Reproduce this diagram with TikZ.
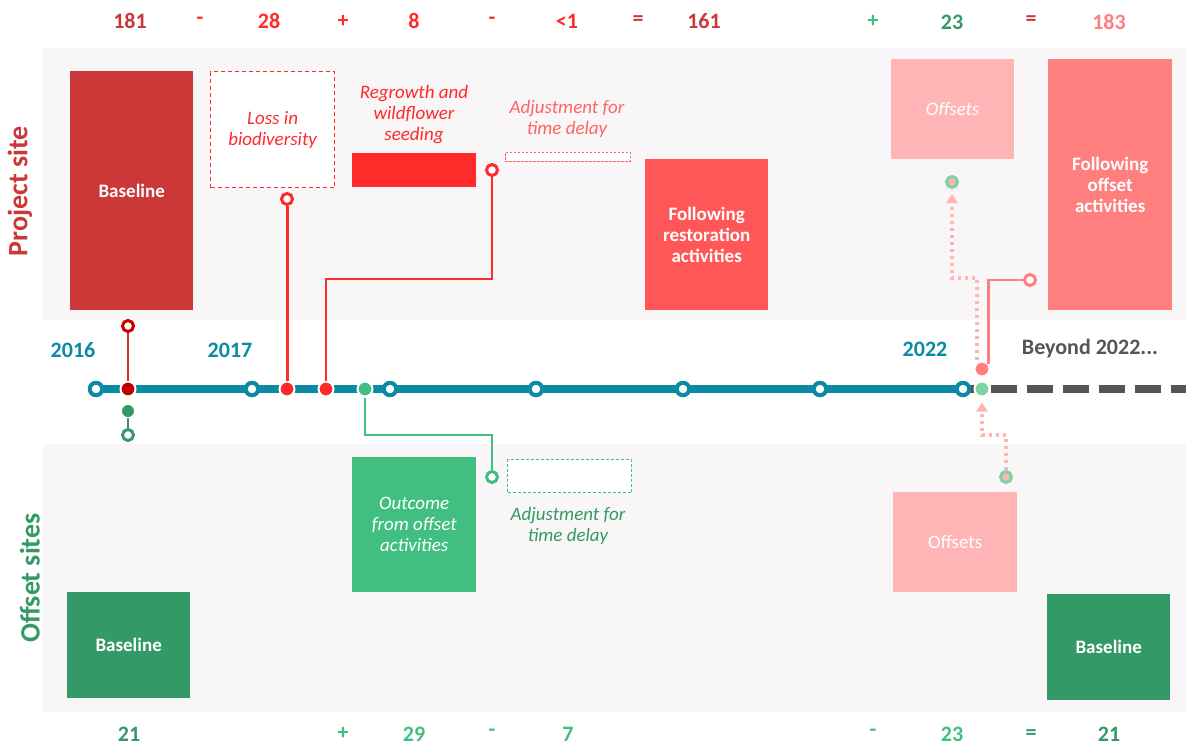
\documentclass[tikz,border=0pt]{standalone}
\usepackage{fontspec}
\setmainfont{Carlito}
\usetikzlibrary{arrows.meta,calc}
\pgfdeclarelayer{bg}
\pgfsetlayers{bg,main}
\definecolor{bandc}{HTML}{F8F6F7}
\definecolor{teal1}{HTML}{0B8AA3}
\definecolor{dkred}{HTML}{CC3737}
\definecolor{dkred2}{HTML}{C00000}
\definecolor{red1}{HTML}{FF2A2A}
\definecolor{red2}{HTML}{FF5757}
\definecolor{redtxt}{HTML}{FF6464}
\definecolor{pink1}{HTML}{FF7F7F}
\definecolor{pink2}{HTML}{FFB5B5}
\definecolor{grn1}{HTML}{339966}
\definecolor{grn2}{HTML}{41BF80}
\definecolor{grn3}{HTML}{7DD3A3}
\definecolor{gry}{HTML}{555555}
\newcommand{\bxf}{\fontsize{19}{21}\selectfont}
\newcommand{\numf}{\fontsize{22}{24}\selectfont\bfseries}
\tikzset{
  boxn/.style={inner sep=0pt, anchor=north west, text=white, align=center},
  txtn/.style={inner sep=0pt, align=center, font=\bxf\itshape},
  numn/.style={inner sep=0pt, font=\numf},
  yrn/.style={inner sep=0pt, font=\numf, text=teal1},
  tcirc/.style={circle, draw=teal1, line width=4pt, fill=white, minimum size=12.5pt, inner sep=0pt},
  ocirc/.style={circle, line width=3pt, fill=white, minimum size=11pt, inner sep=0pt},
  fdot/.style={circle, draw=white, line width=2pt, minimum size=15pt, inner sep=0pt},
  conn/.style={line width=3pt},
  dotarr/.style={draw=pink2, line width=3.5pt, dash pattern=on 3.5pt off 3.5pt, -{Triangle[length=9pt,width=11pt]}, shorten >=5pt},
}
\begin{document}
\begin{tikzpicture}[x=1pt,y=-1pt]
\useasboundingbox (0,0) rectangle (1186,745);
\begin{pgfonlayer}{bg}
\fill[bandc] (43,48) rectangle (1186,320);
\fill[bandc] (43,444) rectangle (1186,712);
\end{pgfonlayer}

% side labels
\node[rotate=90, inner sep=0pt, text=dkred, font=\fontsize{28}{30}\selectfont\bfseries] (ps) at (20,191) {Project site};
\node[rotate=90, inner sep=0pt, text=grn1, font=\fontsize{28}{30}\selectfont\bfseries] (os) at (30,578) {Offset sites};

% top numbers
\node[numn, text=dkred] (a1) at (130,21) {181};
\node[numn, text=red1] (a2) at (200,21) {-};
\node[numn, text=red1] (a3) at (269,21) {28};
\node[numn, text=red1] (a4) at (343,21) {+};
\node[numn, text=red1] (a5) at (414,21) {8};
\node[numn, text=red1] (a6) at (492,21) {-};
\node[numn, text=red1] (a7) at (567,21) {<1};
\node[numn, text=dkred] (a8) at (638,21) {=};
\node[numn, text=dkred] (a9) at (704,21) {161};
\node[numn, text=grn2] (a10) at (873,21) {+};
\node[numn, text=grn1] (a11) at (952,22) {23};
\node[numn, text=dkred] (a12) at (1031,21) {=};
\node[numn, text=pink1] (a13) at (1109,22) {183};

% bottom numbers
\node[numn, text=grn1] (b1) at (129,734) {21};
\node[numn, text=grn2] (b2) at (343,733) {+};
\node[numn, text=grn2] (b3) at (414,734) {29};
\node[numn, text=grn2] (b4) at (492,733) {-};
\node[numn, text=grn2] (b5) at (568,734) {7};
\node[numn, text=grn2] (b6) at (873,733) {-};
\node[numn, text=grn2] (b7) at (952,734.5) {23};
\node[numn, text=grn1] (b8) at (1031,735) {=};
\node[numn, text=grn1] (b9) at (1109,734) {21};

% years
\node[yrn] (y1) at (73,350) {2016};
\node[yrn] (y2) at (230,350) {2017};
\node[yrn] (y3) at (925,349) {2022};
\node[numn, text=gry] (y4) at (1090,349) {Beyond 2022...};

% project boxes
\node[boxn, fill=dkred, minimum width=123, minimum height=239, font=\bxf\bfseries] (pbase) at (70,71) {Baseline};
\node[boxn, fill=white, draw=red1, line width=1.2pt, dash pattern=on 4pt off 3pt, minimum width=124, minimum height=116, text=red1, font=\bxf\itshape] (loss) at (210,71) {Loss in\\biodiversity};
\node[boxn, fill=red1, minimum width=124, minimum height=34] (regb) at (352,153) {};
\node[txtn, text=red1] (regt) at (414,115) {Regrowth and\\wildflower\\seeding};
\node[txtn, text=redtxt] (adjt) at (567,119) {Adjustment for\\time delay};
\node[boxn, fill=white, draw=redtxt, line width=0.8pt, dash pattern=on 2.5pt off 1.5pt, minimum width=125, minimum height=9] (adjb) at (505,152) {};
\node[boxn, fill=red2, minimum width=123, minimum height=151, font=\bxf\bfseries] (rest) at (645,159) {Following\\restoration\\activities};
\node[boxn, fill=pink2, minimum width=123, minimum height=100, font=\bxf\itshape] (offt) at (891,59) {Offsets};
\node[boxn, fill=pink1, minimum width=124, minimum height=251, font=\bxf\bfseries] (offa) at (1048,59) {Following\\offset\\activities};

% offset boxes
\node[boxn, fill=grn1, minimum width=123, minimum height=106, font=\bxf\bfseries] (obase) at (67,592) {Baseline};
\node[boxn, fill=grn2, minimum width=124, minimum height=135, font=\bxf\itshape] (outc) at (352,457) {Outcome\\from offset\\activities};
\node[boxn, fill=white, draw=grn2, line width=1pt, dash pattern=on 3pt off 2pt, minimum width=124, minimum height=33] (gadj) at (507,459) {};
\node[txtn, text=grn1] (gadjt) at (568,526) {Adjustment for\\time delay};
\node[boxn, fill=pink2, minimum width=124, minimum height=100, font=\bxf] (offb) at (893,492) {Offsets};
\node[boxn, fill=grn1, minimum width=123, minimum height=106, font=\bxf\bfseries] (obase2) at (1047,594) {Baseline};

% timeline nodes
\node[tcirc] (t1) at (96,389) {};
\node[tcirc] (t2) at (252,389) {};
\node[tcirc] (t3) at (390,389) {};
\node[tcirc] (t4) at (536,389) {};
\node[tcirc] (t5) at (683,389) {};
\node[tcirc] (t6) at (820,389) {};
\node[tcirc] (t7) at (963,389) {};
\coordinate (tend) at (1186,389);

\node[fdot, fill=dkred2] (d1) at (128,389) {};
\node[fdot, fill=red1] (d2) at (287,389) {};
\node[fdot, fill=red1] (d3) at (326,389) {};
\node[fdot, fill=grn2] (d4) at (365,389) {};
\node[fdot, fill=grn3] (d5) at (982,389) {};
\node[fdot, fill=pink1] (d6) at (982,369) {};
\node[fdot, fill=grn1, draw=none, minimum size=12pt] (d7) at (128,411) {};

% open circles
\node[ocirc, draw=dkred2] (c1) at (128,326) {};
\node[ocirc, draw=grn1] (c2) at (128,435) {};
\node[ocirc, draw=red1] (c3) at (287,199) {};
\node[ocirc, draw=red1] (c4) at (492,170) {};
\node[ocirc, draw=grn2] (c5) at (492,477) {};
\node[ocirc, draw=pink1] (c6) at (1030,280) {};
\node[circle, draw=grn3, fill=pink2, line width=3pt, minimum size=11pt, inner sep=0pt] (gc1) at (952,182) {};
\node[circle, draw=grn3, fill=pink2, line width=3pt, minimum size=11pt, inner sep=0pt] (gc2) at (1006,477) {};

\coordinate (k1) at (977,278);
\coordinate (k2) at (982,435);
\coordinate (k3) at (492,435);
\coordinate (k4) at (492,279);
\coordinate (k5) at (977,360);

\begin{pgfonlayer}{bg}
\draw[teal1, line width=8pt] (t1.center) -- (t7.center);
\draw[gry, line width=8pt] (t7.center) -- (d5.center);
\draw[gry, line width=8pt, dash pattern=on 26pt off 10pt] (d5.east) -- (tend);
\end{pgfonlayer}

% connectors
\draw[conn, dkred, line width=2.5pt] (d1) -- (c1);
\draw[conn, grn1, line width=2pt] (d7) -- (c2);
\draw[conn, red1] (d2) -- (c3);
\draw[conn, red1, line width=2.5pt] (d3) |- (k4) -- (c4);
\draw[conn, grn2, line width=2.5pt] (d4) |- (k3) -- (c5);
\draw[conn, pink1, line width=2.5pt] (d6.40) |- (c6);
\draw[dotarr] (k5) -- (k1) -| (gc1);
\draw[dotarr] (gc2) -- (gc2 |- k2) -| (d5);
\end{tikzpicture}
\end{document}
